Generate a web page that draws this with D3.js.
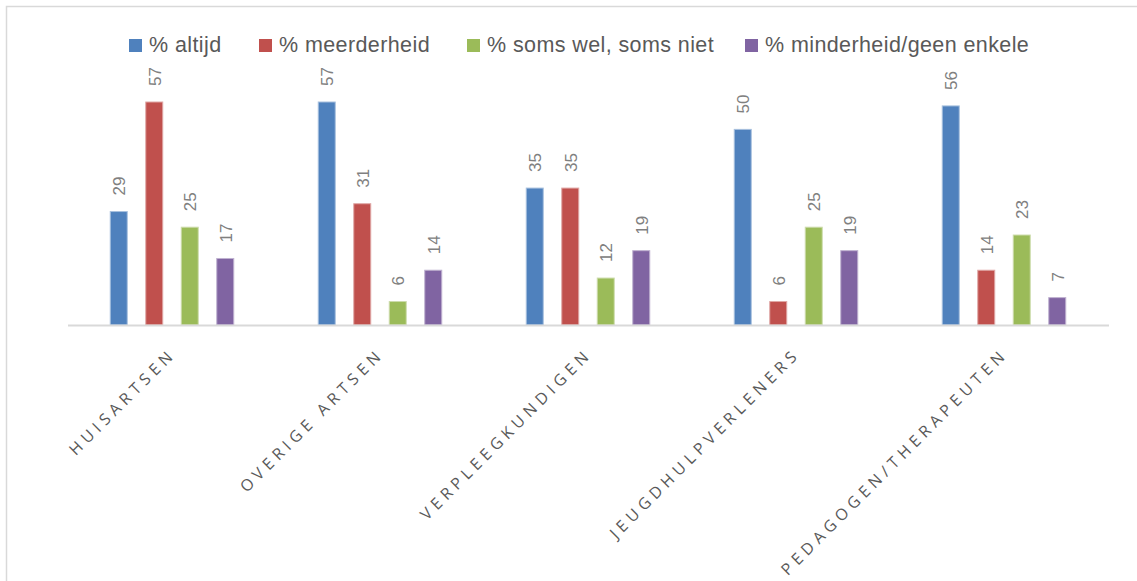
<!DOCTYPE html>
<html><head><meta charset="utf-8">
<script src="https://cdn.jsdelivr.net/npm/d3@7"></script>
<style>body{margin:0;background:#fff;}svg{display:block;}</style>
</head><body>
<script>
const categories = ["HUISARTSEN","OVERIGE ARTSEN","VERPLEEGKUNDIGEN","JEUGDHULPVERLENERS","PEDAGOGEN/THERAPEUTEN"];
const seriesNames = ["% altijd","% meerderheid","% soms wel, soms niet","% minderheid/geen enkele"];
const altijd = [29,57,35,50,56];
const meerderheid = [57,31,35,6,14];
const somsWel = [25,6,12,25,23];
const minderheid = [17,14,19,19,7];
const colors = ["#4f81bd","#c0504d","#9bbb59","#8064a2"];
const strokes = ["#a7c0de","#e0a8a6","#cddcac","#bfb1d0"];
const series = [altijd, meerderheid, somsWel, minderheid];

const W = 1137, H = 581;
const svg = d3.select("body").append("svg").attr("width", W).attr("height", H);
svg.append("rect").attr("x",6.5).attr("y",6.5).attr("width",W).attr("height",H)
  .attr("fill","#fff").attr("stroke","#d9d9d9").attr("stroke-width",1.5);

const x0 = d3.scaleBand().domain(categories).range([68,1108]);
const groupW = 124.5;
const x1 = d3.scaleBand().domain(d3.range(4)).range([0,groupW]).paddingInner(0.493);
const y = d3.scaleLinear().domain([0,57]).range([325,102]);

categories.forEach((c,ci)=>{
  const g = svg.append("g").attr("transform",`translate(${x0(c)+x0.bandwidth()/2-groupW/2},0)`);
  series.forEach((s,si)=>{
    const v = s[ci];
    g.append("rect").attr("x",x1(si)+0.5).attr("y",y(v)).attr("width",x1.bandwidth()-1)
      .attr("height",y(0)-y(v)).attr("fill",colors[si]).attr("stroke",strokes[si]).attr("stroke-width",1);
    const lx = x1(si)+x1.bandwidth()/2, ly = y(v)-16;
    g.append("text").attr("transform",`translate(${lx+6.5},${ly}) rotate(-90)`)
      .attr("font-family","Liberation Sans, Arial, sans-serif").attr("font-size",17).attr("fill","#808080")
      .attr("text-anchor","start").text(v);
  });
});

svg.append("line").attr("x1",68).attr("x2",1109).attr("y1",325.5).attr("y2",325.5)
  .attr("stroke","#d9d9d9").attr("stroke-width",2);

categories.forEach(c=>{
  const cx = x0(c)+x0.bandwidth()/2;
  svg.append("text").attr("transform",`translate(${cx+5},${355}) rotate(-45)`)
    .attr("text-anchor","end").attr("font-family","Open Sans, sans-serif").attr("font-size",16)
    .attr("letter-spacing","4.8px").attr("fill","#595959").text(c);
});

// legend
const legendX = [129, 259, 467, 745];
seriesNames.forEach((n,i)=>{
  svg.append("rect").attr("x",legendX[i]).attr("y",39).attr("width",13).attr("height",13).attr("fill",colors[i]);
  svg.append("text").attr("x",legendX[i]+20).attr("y",51.5).attr("font-family","Liberation Sans, Arial, sans-serif")
    .attr("font-size",21.5).attr("letter-spacing","0.4px").attr("fill","#595959").text(n);
});
</script>
</body></html>
